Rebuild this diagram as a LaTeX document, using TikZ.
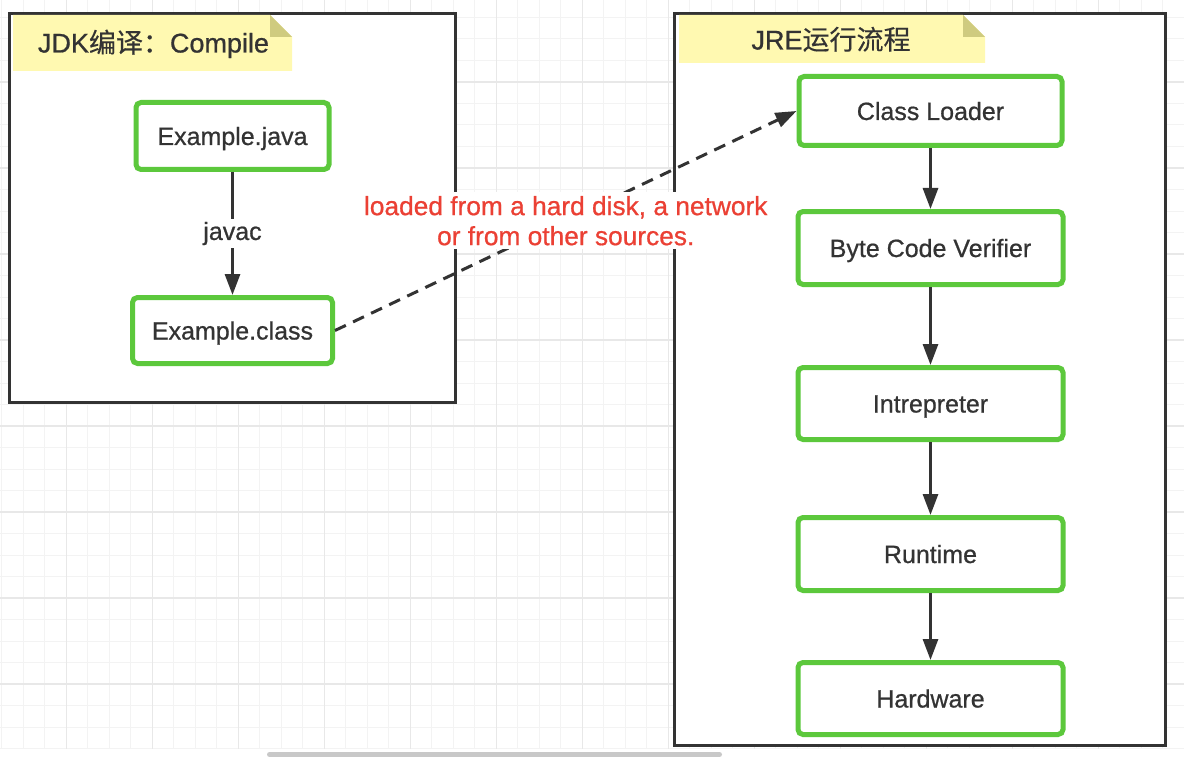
\documentclass[tikz,border=0pt]{standalone}
\usepackage{fontspec}
\setmainfont{Liberation Sans}[FakeBold=0.7]
\newfontfamily\cjk{Noto Sans CJK SC}[FakeBold=0.3]
\usetikzlibrary{arrows.meta}
\definecolor{ink}{HTML}{333333}
\definecolor{boxgreen}{RGB}{92,200,60}
\definecolor{noteyellow}{RGB}{255,249,177}
\definecolor{notefold}{RGB}{207,203,127}
\definecolor{gridminor}{HTML}{F3F3F3}
\definecolor{gridmajor}{HTML}{E8E8E8}
\definecolor{labelred}{RGB}{235,64,52}
\definecolor{scrollgray}{HTML}{C8C8C8}
\begin{document}
\begin{tikzpicture}[x=1pt,y=-1pt,
  stepbox/.style={draw=boxgreen, line width=5pt, rounded corners=5pt, fill=white,
    text=ink, font=\fontsize{25}{30}\selectfont, inner sep=0pt,
    text height=18pt, text depth=0pt},
  container/.style={draw=ink, line width=3pt, fill=white},
  flow/.style={draw=ink, line width=3pt, -{Triangle[length=21pt,width=15pt]}},
  loadflow/.style={flow, dash pattern=on 12pt off 8pt},
  edgelabel/.style={fill=white, text=ink, font=\fontsize{25}{30}\selectfont, inner sep=3pt},
  redlabel/.style={fill=white, text=labelred, font=\fontsize{26.3}{30}\selectfont, align=center, inner sep=4pt},
  notetext/.style={text=ink, font=\fontsize{27}{32}\selectfont, inner sep=0pt, anchor=base}
]
\useasboundingbox (0,0) rectangle (1184,757);
\fill[white] (0,0) rectangle (1184,757);
% grid
\foreach \i in {0,...,55} {\draw[gridminor, line width=1pt] (1.8+21.5*\i,0) -- (1.8+21.5*\i,749);}
\foreach \j in {0,...,34} {\draw[gridminor, line width=1pt] (0,17.5+21.5*\j) -- (1184,17.5+21.5*\j);}
\foreach \i in {0,...,13} {\draw[gridmajor, line width=1.2pt] (66.3+86*\i,0) -- (66.3+86*\i,749);}
\foreach \j in {0,...,7} {\draw[gridmajor, line width=1.2pt] (0,82+86*\j) -- (1184,82+86*\j);}
\fill[scrollgray, rounded corners=2.5pt] (267,752) rectangle (722,757);

% containers
\draw[container] (9.5,13.5) rectangle (455.5,402.5);
\draw[container] (674.5,13.5) rectangle (1165.5,745.5);

% notes
\fill[noteyellow] (13,15) -- (270,15) -- (292,37) -- (292,71) -- (13,71) -- cycle;
\fill[notefold] (270,15) -- (292,37) -- (270,37) -- cycle;
\node[notetext] (jdknote) at (153.5,52.5) {JDK{\cjk 编译：}Compile};

\fill[noteyellow] (679,15) -- (963,15) -- (985,37) -- (985,63) -- (679,63) -- cycle;
\fill[notefold] (963,15) -- (985,37) -- (963,37) -- cycle;
\node[notetext] (jrenote) at (831,49.5) {JRE{\cjk 运行流程}};

% nodes
\node[stepbox, minimum width=193pt, minimum height=67pt] (ej) at (232.5,136) {Example.java};
\node[stepbox, minimum width=200pt, minimum height=66pt] (ec) at (232.5,330.5) {Example.class};
\node[stepbox, minimum width=263pt, minimum height=69pt] (cl) at (930.5,111) {Class Loader};
\node[stepbox, minimum width=265pt, minimum height=73pt] (bv) at (930.5,248) {Byte Code Verifier};
\node[stepbox, minimum width=265pt, minimum height=72pt] (ip) at (930.5,403.5) {Intrepreter};
\node[stepbox, minimum width=265pt, minimum height=73pt] (rt) at (930.5,554) {Runtime};
\node[stepbox, minimum width=265pt, minimum height=72pt] (hw) at (930.5,698.5) {Hardware};

% connectors
\draw[flow] (ej.south) -- node[edgelabel] (javac) {javac} (ec.north);
\draw[flow] (cl.south) -- (bv.north);
\draw[flow] (bv.south) -- (ip.north);
\draw[flow] (ip.south) -- (rt.north);
\draw[flow] (rt.south) -- (hw.north);
\draw[loadflow] (ec.east) -- node[redlabel] (loadnote) {loaded from a hard disk, a network\\or from other sources.} (cl.west);
\end{tikzpicture}
\end{document}
